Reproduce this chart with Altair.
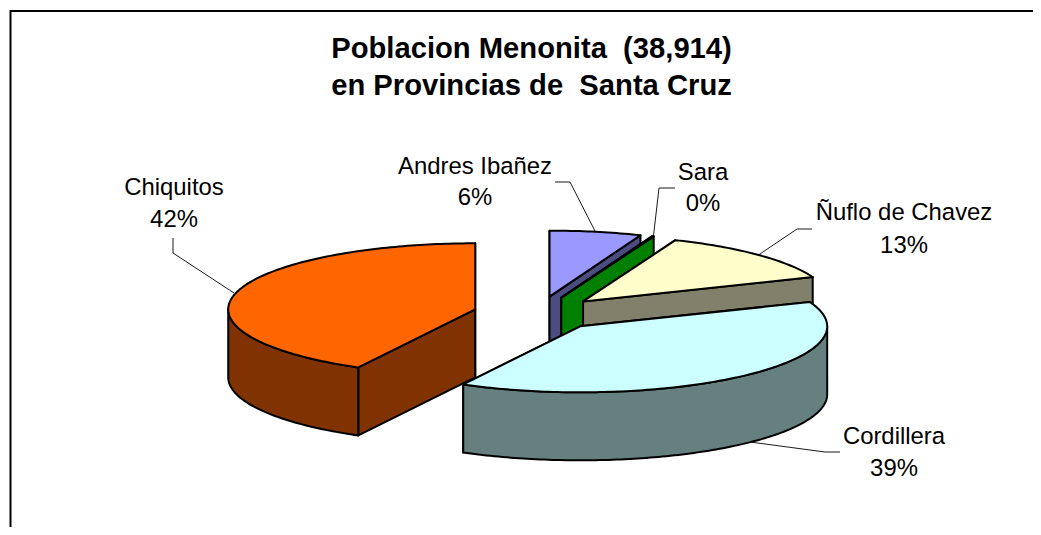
import math
import altair as alt

# Data
provinces = ["Andres Ibañez", "Sara", "Ñuflo de Chavez", "Cordillera", "Chiquitos"]
shares = [6.0, 0.1, 12.9, 38.85, 42.15]
top_colors = ["#9999FF", "#00FF00", "#FFFFCC", "#CCFFFF", "#FF6600"]
side_colors = ["#4C4C80", "#008000", "#80806B", "#668080", "#803300"]
title_lines = ["Poblacion Menonita \u00a0(38,914)", "en Provincias de \u00a0Santa Cruz"]

# Pie geometry (page pixels)
CX, CY, RX, RY, DEPTH, EXPLODE = 537.5, 313.5, 247.0, 66.0, 68.0, 0.26

label_x = [475, 703, 904, 894, 174]
label_y = [[174, 205], [180, 211], [220, 253], [444, 476], [195, 227]]
leader_x = [[555, 570, 596], [675, 659, 653], [812, 797, 757], [840, 825, 750], [173, 173, 234]]
leader_y = [[182, 182, 233], [188, 188, 240], [229, 229, 256], [452, 452, 442], [238, 253, 293]]


def on_rim(cx, cy, deg, drop=0.0):
    t = math.radians(deg)
    return [cx + RX * math.sin(t), cy - RY * math.cos(t) + drop]


def poly(points, fill):
    pts = [list(p) for p in points]
    pts.append(pts[0])
    return {"type": "Feature", "properties": {"fill": fill},
            "geometry": {"type": "Polygon", "coordinates": [pts]}}


def steps(a, b):
    n = max(2, int(abs(b - a)) + 2)
    return [a + (b - a) * i / (n - 1) for i in range(n)]


features = []
start = 0.0
for share, top, side in zip(shares, top_colors, side_colors):
    sweep = share * 3.6
    end = start + sweep
    mid = math.radians((start + end) / 2)
    cx = CX + EXPLODE * RX * math.sin(mid)
    cy = CY - EXPLODE * RY * math.cos(mid)
    for edge in (start, end):
        p = on_rim(cx, cy, edge)
        q = on_rim(cx, cy, edge, DEPTH)
        features.append(poly([[cx, cy], p, q, [cx, cy + DEPTH]], side))
    lo, hi = max(start, 90.0), min(end, 270.0)
    if hi > lo:
        arc = steps(lo, hi)
        features.append(poly([on_rim(cx, cy, d) for d in arc] +
                             [on_rim(cx, cy, d, DEPTH) for d in reversed(arc)], side))
    features.append(poly([[cx, cy]] + [on_rim(cx, cy, d) for d in steps(start, end)], top))
    start = end

frame = {"type": "Feature", "properties": {},
         "geometry": {"type": "LineString", "coordinates": [[1041, 11], [10.5, 11], [10.5, 535]]}}
leaders = [{"type": "Feature", "properties": {},
            "geometry": {"type": "LineString", "coordinates": [list(p) for p in zip(xs, ys)]}}
           for xs, ys in zip(leader_x, leader_y)]

proj = dict(type="identity", scale=1, translate=[-8, -8])

frame_layer = alt.Chart(alt.Data(values=[frame])).mark_geoshape(
    filled=False, stroke="#000000", strokeWidth=2).project(**proj)
leader_layer = alt.Chart(alt.Data(values=leaders)).mark_geoshape(
    filled=False, stroke="#000000", strokeWidth=0.9).project(**proj)
pie_layer = alt.Chart(alt.Data(values=features)).mark_geoshape(
    stroke="#000000", strokeWidth=2, strokeJoin="round").encode(
    fill=alt.Fill("properties.fill:N", scale=None)).project(**proj)

label_rows = []
for name, share, x, ys in zip(provinces, shares, label_x, label_y):
    label_rows.append({"t": name, "px": x - 8, "py": ys[0] - 8})
    label_rows.append({"t": f"{round(share)}%", "px": x - 8, "py": ys[1] - 8})
label_layer = alt.Chart(alt.Data(values=label_rows)).mark_text(
    font="Liberation Sans", fontSize=23.9, color="#000000", align="center", baseline="alphabetic"
).encode(x=alt.X("px:Q", scale=None), y=alt.Y("py:Q", scale=None), text="t:N")

title_rows = [{"t": title_lines[0], "px": 531.5 - 8, "py": 58 - 8},
              {"t": title_lines[1], "px": 531.5 - 8, "py": 95 - 8}]
title_layer = alt.Chart(alt.Data(values=title_rows)).mark_text(
    font="Liberation Sans", fontSize=29.2, fontWeight="bold", color="#000000",
    align="center", baseline="alphabetic"
).encode(x=alt.X("px:Q", scale=None), y=alt.Y("py:Q", scale=None), text="t:N")

chart = alt.layer(frame_layer, leader_layer, pie_layer, label_layer, title_layer).properties(
    width=1025, height=519, padding=0, background="#FFFFFF"
).configure_view(stroke=None)

chart.save("out.html", embed_options={"renderer": "svg", "actions": False})
